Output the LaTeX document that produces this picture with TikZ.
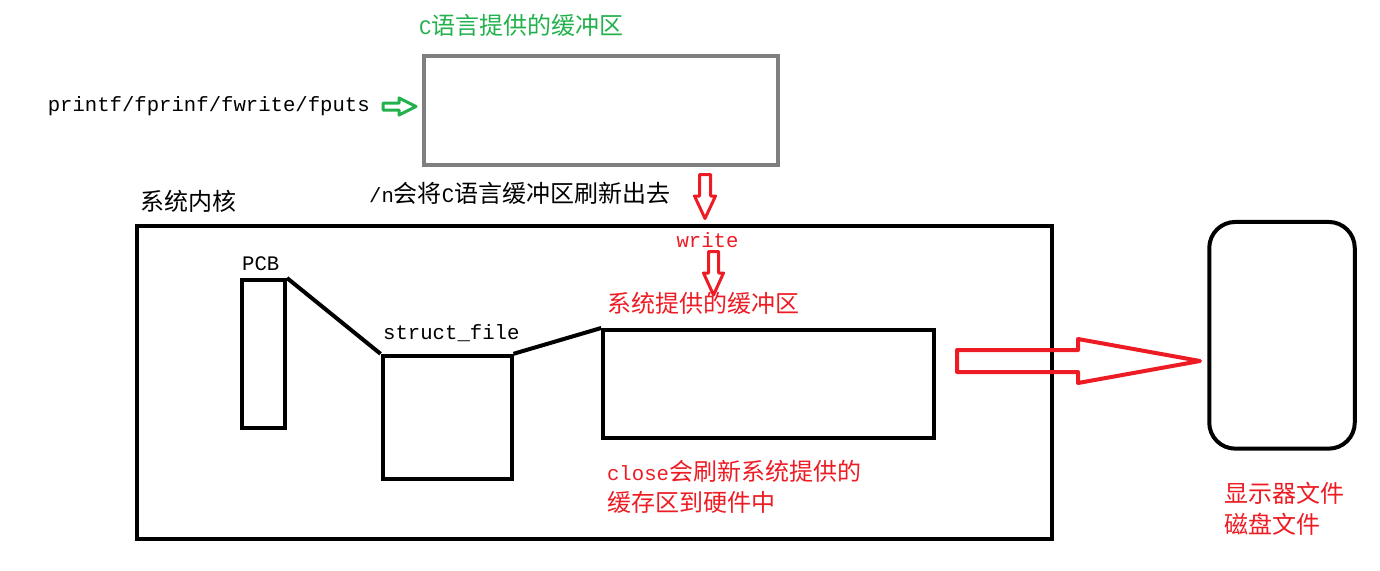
\documentclass[tikz,border=0pt]{standalone}
\usepackage{fontspec}
\setmainfont{Liberation Mono}[Scale=0.86]
\newfontfamily\cjk{Noto Sans CJK SC}
\usetikzlibrary{positioning}
\definecolor{paintred}{HTML}{ED1C24}
\definecolor{paintgreen}{HTML}{22B14C}
\definecolor{boxgray}{HTML}{7F7F7F}

\begin{document}
\begin{tikzpicture}[x=1pt, y=-1pt, font=\fontsize{24}{31}\selectfont, box/.style={draw, line width=4pt, inner sep=0pt}, link/.style={line width=4pt}, lbl/.style={inner sep=0pt, align=left}, hollow/.style={draw=paintred, line width=3pt, line join=round}]
\useasboundingbox (0,0) rectangle (1380,570);
\node[box, draw=boxgray, minimum width=354, minimum height=109] (cbuf) at (601,110.5) {};
\node[box, minimum width=915, minimum height=313] (kernel) at (594.5,382.5) {};
\node[box, minimum width=43, minimum height=148] (pcb) at (263.5,354) {};
\node[box, minimum width=129, minimum height=123] (sfile) at (447,417.3) {};
\node[box, minimum width=331, minimum height=108] (sysbuf) at (768.7,384) {};
\node[box, rounded corners=26pt, minimum width=145.5, minimum height=226.7] (disp) at (1282,335.3) {};
\node[lbl, text=paintgreen, above right=17pt and -3pt of cbuf.north west] (cbuftitle) {C{\cjk 语言提供的缓冲区}};
\node[lbl, anchor=east] (calls) at (370,106) {printf/fprinf/fwrite/fputs};
\node[lbl, below right=15pt and -53pt of cbuf.south west] (flushnote) {/n{\cjk 会将}C{\cjk 语言缓冲区刷新出去}};
\node[lbl, above right=11pt and 5pt of kernel.north west] (kerneltitle) {\cjk 系统内核};
\node[lbl, above right=7pt and 2pt of pcb.north west] (pcbtitle) {PCB};
\node[lbl, above right=11.7pt and 2.5pt of sfile.north west] (sfiletitle) {struct\_file};
\node[lbl, text=paintred, above right=13pt and 5.7pt of sysbuf.north west] (sysbuftitle) {\cjk 系统提供的缓冲区};
\node[lbl, text=paintred, below right=20pt and 5.7pt of sysbuf.south west] (closenote) {close{\cjk 会刷新系统提供的}\\{\cjk 缓存区到硬件中}};
\node[lbl, text=paintred, below right=31pt and 17.5pt of disp.south west] (disptitle) {{\cjk 显示器文件}\\{\cjk 磁盘文件}};
\node[lbl, text=paintred] (write) at (707.5,240) {write};
\coordinate (callsout) at (383,103);
\coordinate (flushout) at (699.5,174.5);
\coordinate (writeout) at (708.5,251.5);
\coordinate (sysout) at (957,350);
\draw[link] (pcb.north east) -- (sfile.north west);
\draw[link] (sfile.north east) -- (sysbuf.north west);
\draw[hollow, draw=paintgreen] (callsout) -- ++(16,0) -- ++(0,-5) -- ++(17,8.5) -- ++(-17,8.5) -- ++(0,-5) -- ++(-16,0) -- cycle;
\draw[hollow] (flushout) -- ++(11,0) -- ++(0,21.5) -- ++(5,0) -- ++(-10.5,22.5) -- ++(-10.5,-22.5) -- ++(5,0) -- cycle;
\draw[hollow] (writeout) -- ++(10,0) -- ++(0,21.5) -- ++(5,0) -- ++(-10,22) -- ++(-10,-22) -- ++(5,0) -- cycle;
\draw[hollow, line width=4pt] (sysout) -- ++(121,0) -- ++(0,-11) -- ++(122,22) -- ++(-122,22) -- ++(0,-11) -- ++(-121,0) -- cycle;
\end{tikzpicture}
\end{document}
